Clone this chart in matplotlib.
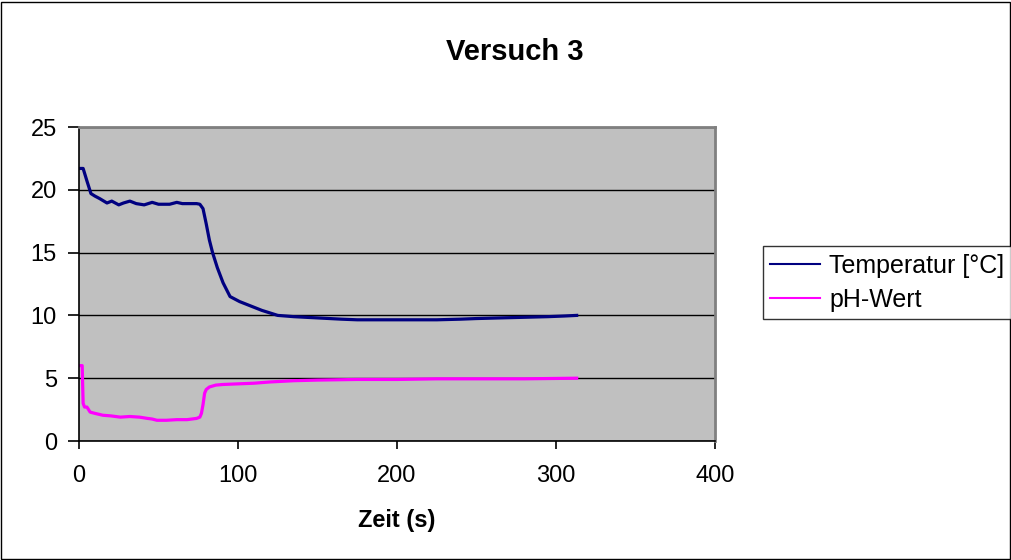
import numpy as np
import matplotlib.pyplot as plt
from matplotlib.patches import Rectangle
from matplotlib.lines import Line2D

plt.rcParams['font.family'] = ['Liberation Sans', 'DejaVu Sans']

# Temperatur [°C]
t_temp = [0, 2.6, 5, 7.5, 10, 13, 17.6, 20.6, 25, 28, 32, 36, 41, 46, 50, 57, 61.5, 65, 70, 74,
          76, 78, 80, 82, 84, 87, 90.6, 93, 95, 98, 101, 105, 110, 115, 120, 125, 135, 150,
          165, 175, 190, 200, 215, 225, 240, 250, 265, 280, 295, 305, 313]
temp = [21.7, 21.7, 20.7, 19.7, 19.5, 19.3, 18.95, 19.1, 18.8, 18.95, 19.1, 18.9, 18.8, 19.0, 18.85,
        18.85, 19.0, 18.9, 18.9, 18.9, 18.85, 18.5, 17.3, 16.0, 15.0, 13.8, 12.6, 12.0, 11.5, 11.3,
        11.1, 10.9, 10.65, 10.4, 10.2, 10.0, 9.9, 9.8, 9.7, 9.65, 9.65, 9.65, 9.65, 9.65, 9.7,
        9.75, 9.8, 9.85, 9.9, 9.95, 10.0]

# pH-Wert
t_ph = [0, 2, 2.6, 3.5, 5, 7, 10, 15, 20, 26, 32, 38, 43, 46, 49, 55, 61.5, 68, 74, 76, 77,
        78, 79, 80, 82, 86, 90.5, 100, 110, 120, 135, 150, 175, 200, 225, 250, 280, 313]
ph = [6.0, 6.0, 3.0, 2.7, 2.7, 2.3, 2.2, 2.05, 2.0, 1.9, 1.95, 1.9, 1.8, 1.75, 1.65, 1.65, 1.7,
      1.7, 1.8, 1.9, 2.2, 2.9, 3.8, 4.1, 4.3, 4.45, 4.5, 4.55, 4.6, 4.7, 4.8, 4.85, 4.9, 4.9,
      4.95, 4.95, 4.95, 5.0]

labels = ['Temperatur [°C]', 'pH-Wert']
colors = ['#000080', '#FF00FF']

fig = plt.figure(figsize=(10.12, 5.6), dpi=100)
fig.patches.append(Rectangle((0.001, 0.002), 0.997, 0.995, transform=fig.transFigure,
                             fill=False, edgecolor='black', linewidth=1))

ax = fig.add_axes([79 / 1012, 1 - 441 / 560, 636 / 1012, 314 / 560])
ax.set_facecolor('#C0C0C0')
ax.plot(t_temp, temp, color=colors[0], linewidth=2.3)
ax.plot(t_ph, ph, color=colors[1], linewidth=2.3)

ax.set_xlim(0, 400)
ax.set_ylim(0, 25)
ax.set_xticks([0, 100, 200, 300, 400])
ax.set_yticks([0, 5, 10, 15, 20, 25])
ax.yaxis.grid(True, color='black', linewidth=1)
ax.set_axisbelow(True)
ax.tick_params(labelsize=17, direction='out', width=1.2)
ax.tick_params(axis='x', length=6, pad=11)
ax.tick_params(axis='y', length=8, pad=8)
for s in ['top', 'right']:
    ax.spines[s].set_color('#808080')
    ax.spines[s].set_linewidth(2)
for s in ['left', 'bottom']:
    ax.spines[s].set_linewidth(1.2)

fig.text(397 / 1012, 1 - 521 / 560, 'Zeit (s)', fontsize=17, fontweight='bold',
         ha='center', va='center')
fig.text(515 / 1012, 1 - 52 / 560, 'Versuch 3', fontsize=21,
         fontweight='bold', ha='center', va='center')

handles = [Line2D([], [], color=c, linewidth=1.5) for c in colors]
leg = fig.legend(handles, labels, loc='center left', bbox_to_anchor=(763 / 1012, 1 - 282.5 / 560),
                 fontsize=18, frameon=True, fancybox=False,
                 borderpad=0.3, handlelength=2.0, handletextpad=0.35, labelspacing=0.4,
                 borderaxespad=0)
leg.get_frame().set_edgecolor('black')
leg.get_frame().set_linewidth(1)

fig.savefig('out.png', dpi=100)
